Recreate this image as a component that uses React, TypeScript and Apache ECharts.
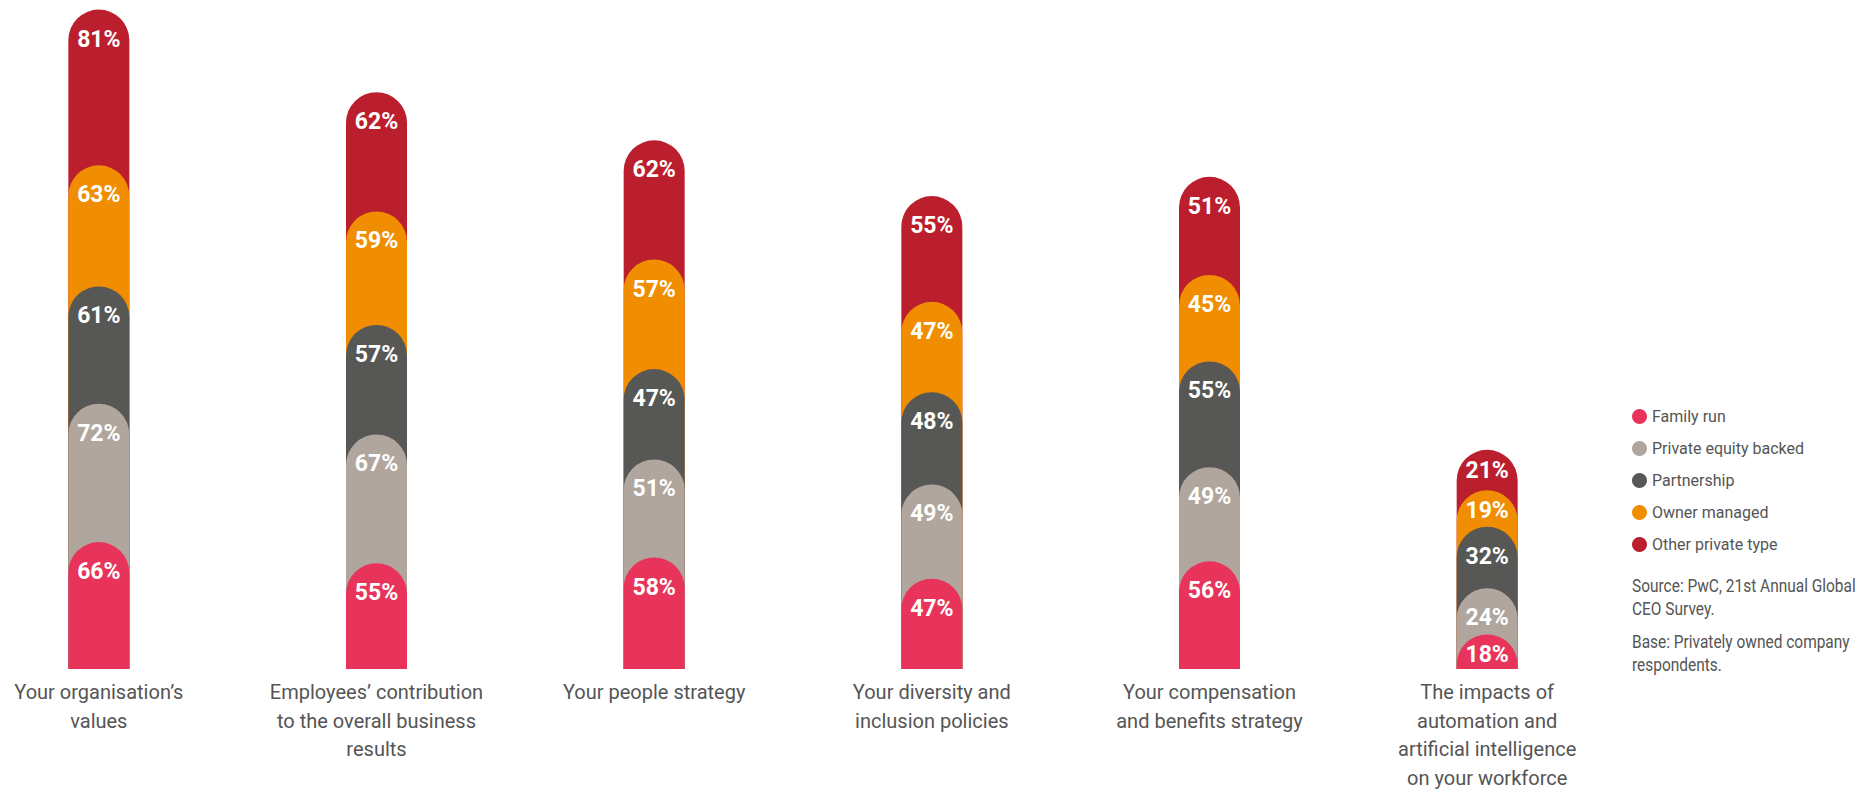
import React, { useEffect, useRef } from "react";
import * as echarts from "echarts";

const categories = [
  "Your organisation’s\nvalues",
  "Employees’ contribution\nto the overall business\nresults",
  "Your people strategy",
  "Your diversity and\ninclusion policies",
  "Your compensation\nand benefits strategy",
  "The impacts of\nautomation and\nartificial intelligence\non your workforce",
];

const seriesNames = [
  "Family run",
  "Private equity backed",
  "Partnership",
  "Owner managed",
  "Other private type",
];

const familyRun = [66, 55, 58, 47, 56, 18];
const privateEquityBacked = [72, 67, 51, 49, 49, 24];
const partnership = [61, 57, 47, 48, 55, 32];
const ownerManaged = [63, 59, 57, 47, 45, 19];
const otherPrivateType = [81, 62, 62, 55, 51, 21];

const seriesColors = ["#e8345a", "#b0a69d", "#575756", "#f18d00", "#bb1e2d"];

const sourceLines = [
  "Source: PwC, 21st Annual Global",
  "CEO Survey.",
  "Base: Privately owned company",
  "respondents.",
];

const FONT = "Roboto, 'Liberation Sans', sans-serif";

export default function App() {
  const ref = useRef<HTMLDivElement>(null);

  useEffect(() => {
    if (!ref.current) return;
    const chart = echarts.init(ref.current, null, { renderer: "svg" });

    const groups = [familyRun, privateEquityBacked, partnership, ownerManaged, otherPrivateType];
    const cumulative: number[][] = [];
    groups.forEach((g, gi) => {
      cumulative.push(g.map((v, i) => (gi === 0 ? v : cumulative[gi - 1][i] + v)));
    });

    const series: any[] = [];
    for (let gi = groups.length - 1; gi >= 0; gi--) {
      const vals = groups[gi];
      series.push({
        name: seriesNames[gi],
        type: "bar",
        barWidth: 61,
        barGap: "-100%",
        z: 2 + (groups.length - gi),
        data: cumulative[gi].map((c, i) => ({
          value: c,
          label: { distance: vals[i] < 22 ? 9 : 18 },
        })),
        itemStyle: { color: seriesColors[gi], borderRadius: [30.5, 30.5, 0, 0] },
        label: {
          show: true,
          position: "insideTop",
          distance: 18,
          formatter: (p: any) => vals[p.dataIndex] + "%",
          color: "#ffffff",
          fontFamily: FONT,
          fontWeight: "bold",
          fontSize: 23,
        },
      });
    }

    const graphicTexts = sourceLines.map((t, i) => ({
      type: "text",
      x: 1632,
      y: [577, 600, 633, 656][i],
      scaleX: 0.86,
      style: {
        text: t,
        fill: "#555555",
        font: `18px ${FONT}`,
        textVerticalAlign: "top",
      },
    }));

    chart.setOption({
      animation: false,
      backgroundColor: "#ffffff",
      grid: { left: -40, width: 1666, top: 0, bottom: 123, outerBoundsMode: "none", containLabel: false },
      xAxis: {
        type: "category",
        data: categories,
        axisLine: { show: false },
        axisTick: { show: false },
        axisLabel: {
          interval: 0,
          margin: 9,
          color: "#555555",
          fontFamily: FONT,
          fontSize: 20,
          lineHeight: 28.5,
        },
      },
      yAxis: {
        type: "value",
        min: 0,
        max: 348,
        show: false,
        splitLine: { show: false },
      },
      legend: {
        orient: "vertical",
        left: 1632,
        top: 407,
        padding: 0,
        icon: "circle",
        itemWidth: 15,
        itemHeight: 15,
        itemGap: 13,
        data: seriesNames,
        textStyle: {
          color: "#555555",
          fontFamily: FONT,
          fontSize: 16,
          lineHeight: 19,
        },
      },
      graphic: graphicTexts,
      series,
    });

    return () => chart.dispose();
  }, []);

  return (
    <div
      ref={ref}
      style={{ position: "absolute", left: 0, top: 0, width: 1860, height: 792 }}
    />
  );
}
